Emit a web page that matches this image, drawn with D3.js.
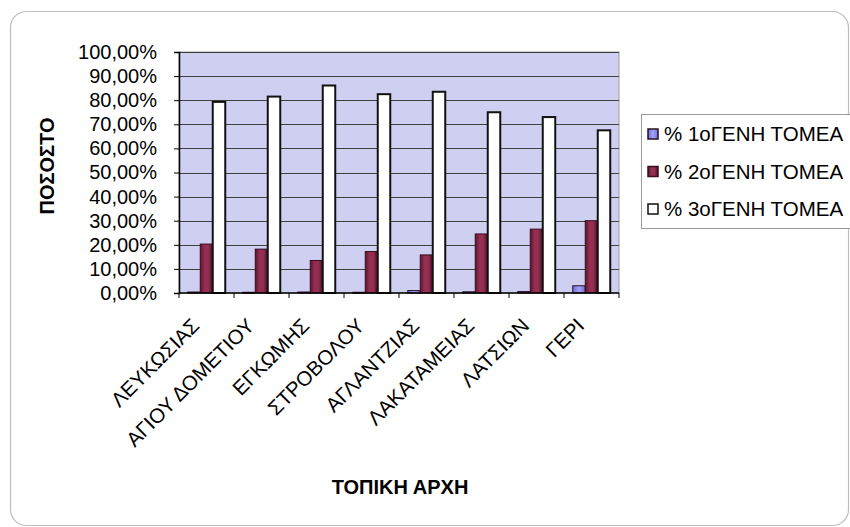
<!DOCTYPE html>
<html>
<head>
<meta charset="utf-8">
<script src="https://cdn.jsdelivr.net/npm/d3@7"></script>
<style>
  html, body { margin: 0; padding: 0; background: #fff; }
  svg { display: block; font-family: "Liberation Sans", Arial, sans-serif; }
</style>
</head>
<body>
<svg id="chart" width="850" height="527"></svg>
<script>
// Local authorities (Nicosia district)
const categories = ["ΛΕΥΚΩΣΙΑΣ", "ΑΓΙΟΥ ΔΟΜΕΤΙΟΥ", "ΕΓΚΩΜΗΣ", "ΣΤΡΟΒΟΛΟΥ",
                    "ΑΓΛΑΝΤΖΙΑΣ", "ΛΑΚΑΤΑΜΕΙΑΣ", "ΛΑΤΣΙΩΝ", "ΓΕΡΙ"];
const seriesNames = ["% 1οΓΕΝΗ ΤΟΜΕΑ", "% 2οΓΕΝΗ ΤΟΜΕΑ", "% 3οΓΕΝΗ ΤΟΜΕΑ"];
// Share of employment per sector (fractions)
const primary   = [0.004, 0.003, 0.004, 0.003, 0.010, 0.005, 0.006, 0.030];
const secondary = [0.203, 0.182, 0.135, 0.172, 0.158, 0.245, 0.265, 0.300];
const tertiary  = [0.793, 0.815, 0.861, 0.825, 0.835, 0.750, 0.730, 0.675];
const yTicks = [0, 0.1, 0.2, 0.3, 0.4, 0.5, 0.6, 0.7, 0.8, 0.9, 1.0];
const yTitle = "ΠΟΣΟΣΤΟ";
const xTitle = "ΤΟΠΙΚΗ ΑΡΧΗ";

const seriesValues = [primary, secondary, tertiary];
const svg = d3.select("#chart");

const plot = { left: 179, right: 619, top: 52, bottom: 293 };

const grLocale = d3.formatLocale({ decimal: ",", thousands: ".", grouping: [3], currency: ["", "€"] });
const pct = grLocale.format(".2%");

// Chart frame
svg.append("rect")
  .attr("x", 10.5).attr("y", 11.5).attr("width", 838).attr("height", 514)
  .attr("rx", 16).attr("fill", "#fff").attr("stroke", "#bdbdbd").attr("stroke-width", 1.2);

// Gradients for bar shading
const defs = svg.append("defs");
const g2 = defs.append("linearGradient").attr("id", "maroon").attr("x1", "0").attr("x2", "1").attr("y1", "0").attr("y2", "0");
g2.append("stop").attr("offset", "0%").attr("stop-color", "#5a152d");
g2.append("stop").attr("offset", "35%").attr("stop-color", "#962f53");
g2.append("stop").attr("offset", "65%").attr("stop-color", "#932e52");
g2.append("stop").attr("offset", "100%").attr("stop-color", "#4a1026");
const g1 = defs.append("linearGradient").attr("id", "blue").attr("x1", "0").attr("x2", "1");
g1.append("stop").attr("offset", "0%").attr("stop-color", "#6f6fd0");
g1.append("stop").attr("offset", "50%").attr("stop-color", "#a4a4ff");
g1.append("stop").attr("offset", "100%").attr("stop-color", "#6f6fd0");

const fills = ["url(#blue)", "url(#maroon)", "#ffffff"];
const strokes = ["#2a1020", "#3a0c1c", "#111111"];
const strokeW = [1, 1, 2];

// Scales
const x = d3.scaleBand().domain(categories).range([plot.left, plot.right]).paddingInner(0).paddingOuter(0);
const xs = d3.scaleBand().domain(d3.range(3)).range([0, x.bandwidth()]).paddingInner(0).paddingOuter(0.7);
const y = d3.scaleLinear().domain([0, 1]).range([plot.bottom, plot.top]);

// Plot area
svg.append("rect")
  .attr("x", plot.left).attr("y", plot.top)
  .attr("width", plot.right - plot.left).attr("height", plot.bottom - plot.top)
  .attr("fill", "#cfcff2").attr("stroke", "#9a9a9a").attr("stroke-width", 1);

// Gridlines
svg.append("g")
  .selectAll("line")
  .data(yTicks.filter(d => d > 0))
  .join("line")
  .attr("x1", plot.left).attr("x2", plot.right)
  .attr("y1", d => Math.round(y(d)) + 0.5).attr("y2", d => Math.round(y(d)) + 0.5)
  .attr("stroke", "#404040").attr("stroke-width", 1);

// Bars
const groups = svg.append("g")
  .selectAll("g")
  .data(seriesValues)
  .join("g");
groups.each(function (vals, si) {
  d3.select(this).selectAll("rect")
    .data(vals.map((v, i) => ({ v, c: categories[i] })))
    .join("rect")
    .attr("x", d => x(d.c) + xs(si))
    .attr("width", xs.bandwidth())
    .attr("y", d => y(d.v))
    .attr("height", d => Math.max(1, y(0) - y(d.v)))
    .attr("fill", fills[si])
    .attr("stroke", strokes[si])
    .attr("stroke-width", strokeW[si]);
});

// Y axis
const yAxis = d3.axisLeft(y).tickValues(yTicks).tickFormat(pct).tickSize(5).tickPadding(17);
const gy = svg.append("g").attr("transform", `translate(${plot.left},0)`).call(yAxis);
gy.select(".domain").attr("stroke", "#000").attr("stroke-width", 1.5);
gy.selectAll(".tick line").attr("stroke", "#000");
gy.selectAll(".tick text").attr("font-size", 20).attr("fill", "#000")
  .attr("font-family", "'Liberation Sans', Arial, sans-serif");

// X axis (tick marks at category boundaries)
const gx = svg.append("g").attr("transform", `translate(0,${plot.bottom})`);
gx.append("line").attr("x1", plot.left).attr("x2", plot.right).attr("y1", 0).attr("y2", 0)
  .attr("stroke", "#000").attr("stroke-width", 1.5);
gx.selectAll("line.tk")
  .data(categories.concat(["__end"]))
  .join("line")
  .attr("class", "tk")
  .attr("x1", (d, i) => plot.left + i * x.step()).attr("x2", (d, i) => plot.left + i * x.step())
  .attr("y1", 0).attr("y2", 5).attr("stroke", "#000");
gx.selectAll("text")
  .data(categories)
  .join("text")
  .attr("transform", d => `translate(${x(d) + x.bandwidth() / 2 - 11},${29}) rotate(-45)`)
  .attr("text-anchor", "end")
  .attr("dy", "0.35em")
  .attr("font-size", 20.5)
  .attr("fill", "#000")
  .text(d => d);

// Axis titles
svg.append("text")
  .attr("transform", "translate(54,166) rotate(-90)")
  .attr("text-anchor", "middle")
  .attr("font-size", 20).attr("font-weight", "bold")
  .text(yTitle);
svg.append("text")
  .attr("x", 400).attr("y", 494)
  .attr("text-anchor", "middle")
  .attr("font-size", 20).attr("font-weight", "bold")
  .text(xTitle);

// Legend
const lg = svg.append("g");
lg.append("rect").attr("x", 641.5).attr("y", 114.5).attr("width", 215).attr("height", 114)
  .attr("fill", "#fff").attr("stroke", "#9a9a9a");
const items = lg.selectAll("g.item").data(seriesNames).join("g")
  .attr("class", "item")
  .attr("transform", (d, i) => `translate(648,${134 + i * 37.5})`);
items.append("rect")
  .attr("x", 0).attr("y", -5).attr("width", 10).attr("height", 10)
  .attr("fill", (d, i) => fills[i]).attr("stroke", (d, i) => strokes[i]).attr("stroke-width", 1.5);
items.append("text")
  .attr("x", 16).attr("dy", "0.35em")
  .attr("font-size", 20.5)
  .text(d => d);
</script>
</body>
</html>
